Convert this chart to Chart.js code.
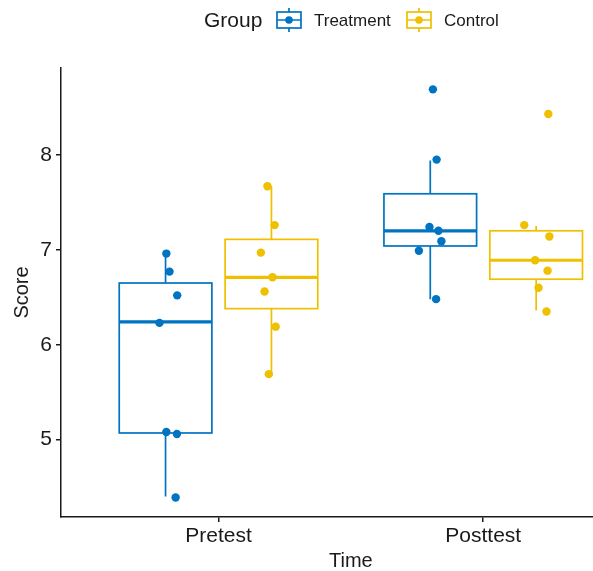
<!DOCTYPE html>
<html>
<head>
<meta charset="utf-8">
<script src="https://cdn.jsdelivr.net/npm/chart.js@4"></script>
<style>
  html,body{margin:0;padding:0;background:#fff;overflow:hidden;}
  #wrap{width:597px;height:571px;position:relative;}
</style>
</head>
<body>
<div id="wrap"><canvas id="chart"></canvas></div>
<script>
// categories
const times  = ['Pretest', 'Posttest'];
const groups = ['Treatment', 'Control'];
const colors = ['#0073C2', '#EFC000'];

// box stats per time (Pretest, Posttest)
const treatLow = [4.40, 6.48];
const treatQ1  = [5.07, 7.04];
const treatMed = [6.24, 7.20];
const treatQ3  = [6.65, 7.59];
const treatHigh= [6.96, 7.94];

const ctrlLow  = [5.69, 6.36];
const ctrlQ1   = [6.38, 6.69];
const ctrlMed  = [6.71, 6.89];
const ctrlQ3   = [7.11, 7.20];
const ctrlHigh = [7.67, 7.25];

// individual scores
const treatPre  = [6.96, 6.77, 6.52, 6.23, 5.08, 5.06, 4.39];
const treatPost = [8.69, 7.95, 7.24, 7.20, 7.09, 6.99, 6.48];
const ctrlPre   = [7.67, 7.26, 6.97, 6.71, 6.56, 6.19, 5.69];
const ctrlPost  = [8.43, 7.26, 7.14, 6.89, 6.78, 6.60, 6.35];

// horizontal jitter (category units)
const treatPreJit  = [0.003, 0.015, 0.044, -0.023, 0.003, 0.043, 0.038];
const treatPostJit = [0.010, 0.024, -0.003, 0.031, 0.042, -0.043, 0.022];
const ctrlPreJit   = [-0.015, 0.012, -0.040, 0.004, -0.026, 0.016, -0.010];
const ctrlPostJit  = [0.046, -0.045, 0.050, -0.004, 0.043, 0.009, 0.039];

const dodge = [-0.2, 0.2];
const halfBox = 0.175;
const FONT = '"Liberation Sans", Arial, Helvetica, sans-serif';
const INK = '#1a1a1a';

function pts(vals, jit, t, g){
  return vals.map((v,i)=>({ x: t+1+dodge[g]+jit[i], y: v }));
}

const boxStats = [
  { low:treatLow, q1:treatQ1, med:treatMed, q3:treatQ3, high:treatHigh },
  { low:ctrlLow,  q1:ctrlQ1,  med:ctrlMed,  q3:ctrlQ3,  high:ctrlHigh }
];

const boxPlugin = {
  id:'boxes',
  beforeDatasetsDraw(chart){
    const {ctx, scales:{x, y}} = chart;
    const hw = x.getPixelForValue(1+halfBox) - x.getPixelForValue(1);
    ctx.save();
    boxStats.forEach((s,g)=>{
      times.forEach((t,i)=>{
        const cx = x.getPixelForValue(i+1+dodge[g]);
        const yl = y.getPixelForValue(s.low[i]), y1 = y.getPixelForValue(s.q1[i]);
        const ym = y.getPixelForValue(s.med[i]), y3 = y.getPixelForValue(s.q3[i]);
        const yh = y.getPixelForValue(s.high[i]);
        ctx.strokeStyle = colors[g];
        ctx.lineWidth = 1.7;
        ctx.beginPath();
        ctx.moveTo(cx, y3); ctx.lineTo(cx, yh);
        ctx.moveTo(cx, y1); ctx.lineTo(cx, yl);
        ctx.stroke();
        ctx.fillStyle = '#fff';
        ctx.fillRect(cx-hw, y3, 2*hw, y1-y3);
        ctx.strokeRect(cx-hw, y3, 2*hw, y1-y3);
        ctx.lineWidth = 3.2;
        ctx.beginPath();
        ctx.moveTo(cx-hw, ym); ctx.lineTo(cx+hw, ym);
        ctx.stroke();
      });
    });
    ctx.restore();
  }
};

function drawKey(ctx, cx, cy, color){
  ctx.strokeStyle = color; ctx.fillStyle = color; ctx.lineWidth = 1.7;
  ctx.beginPath();
  ctx.moveTo(cx, cy-12); ctx.lineTo(cx, cy-8);
  ctx.moveTo(cx, cy+8);  ctx.lineTo(cx, cy+12);
  ctx.moveTo(cx-12, cy); ctx.lineTo(cx+12, cy);
  ctx.stroke();
  ctx.strokeRect(cx-12, cy-8, 24, 16);
  ctx.beginPath(); ctx.arc(cx, cy, 3.8, 0, Math.PI*2); ctx.fill();
}

// legend + x title, both centred on the full (cropped) panel like ggplot
const legendPlugin = {
  id:'groupLegend',
  afterDraw(chart){
    const ctx = chart.ctx;
    ctx.save();
    ctx.textBaseline = 'middle';
    ctx.fillStyle = INK;
    ctx.font = '21px ' + FONT;
    ctx.fillText('Group', 204, 21);
    drawKey(ctx, 289, 20, colors[0]);
    ctx.fillStyle = INK;
    ctx.font = '17px ' + FONT;
    ctx.fillText(groups[0], 314, 21);
    drawKey(ctx, 419, 20, colors[1]);
    ctx.fillStyle = INK;
    ctx.font = '17px ' + FONT;
    ctx.fillText(groups[1], 444, 21);
    ctx.font = '20px ' + FONT;
    ctx.textAlign = 'center';
    ctx.fillText('Time', chart.scales.x.getPixelForValue(1.5), 561);
    ctx.restore();
  }
};

new Chart(document.getElementById('chart'), {
  type:'scatter',
  data:{
    datasets:[
      { label:groups[0], data:pts(treatPre, treatPreJit, 0, 0), backgroundColor:colors[0], borderColor:colors[0] },
      { label:groups[1], data:pts(ctrlPre, ctrlPreJit, 0, 1), backgroundColor:colors[1], borderColor:colors[1] },
      { label:groups[0], data:pts(treatPost, treatPostJit, 1, 0), backgroundColor:colors[0], borderColor:colors[0] },
      { label:groups[1], data:pts(ctrlPost, ctrlPostJit, 1, 1), backgroundColor:colors[1], borderColor:colors[1] }
    ]
  },
  options:{
    responsive:true, maintainAspectRatio:false, animation:false,
    layout:{ padding:{ top:68, right:0, left:0, bottom:0 } },
    elements:{ point:{ radius:4.2, borderWidth:0, hoverRadius:4.2 } },
    plugins:{ legend:{display:false}, tooltip:{enabled:false} },
    scales:{
      x:{
        type:'linear', min:0.405, max:2.414,
        afterBuildTicks(s){ s.ticks = times.map((t,i)=>({value:i+1})); },
        afterFit(s){ s.height = 54; },
        ticks:{ callback:(v)=>times[v-1], color:INK, font:{family:FONT, size:21}, padding:2, maxRotation:0 },
        grid:{ drawOnChartArea:false, drawTicks:true, tickLength:5, color:INK, lineWidth:1.5 },
        border:{ display:true, color:INK, width:1.5 },
        title:{ display:false }
      },
      y:{
        type:'linear', min:4.185, max:8.915,
        afterBuildTicks(s){ s.ticks = [5,6,7,8].map(v=>({value:v})); },
        afterFit(s){ s.width = 61; },
        ticks:{ color:INK, font:{family:FONT, size:21}, padding:4 },
        grid:{ drawOnChartArea:false, drawTicks:true, tickLength:5, color:INK, lineWidth:1.5 },
        border:{ display:true, color:INK, width:1.5 },
        title:{ display:true, text:'Score', color:INK, font:{family:FONT, size:20}, padding:{top:10, bottom:0} }
      }
    }
  },
  plugins:[boxPlugin, legendPlugin]
});
</script>
</body>
</html>
